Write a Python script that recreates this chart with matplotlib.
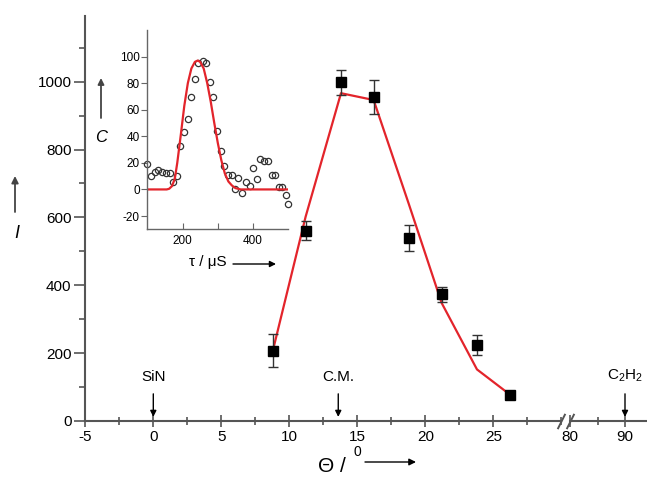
import matplotlib
matplotlib.use('Agg')
import matplotlib.pyplot as plt
from matplotlib.patches import FancyArrowPatch
from matplotlib.ticker import MultipleLocator, FixedLocator

plt.rcParams['font.family'] = ['Liberation Sans', 'DejaVu Sans']
plt.rcParams['mathtext.fontset'] = 'custom'
plt.rcParams['mathtext.rm'] = 'Liberation Sans'
plt.rcParams['mathtext.it'] = 'Liberation Sans:italic'
plt.rcParams['axes.unicode_minus'] = False

# main panel: intensity vs laboratory angle
theta = [8.8, 11.2, 13.8, 16.2, 18.8, 21.2, 23.8, 26.25]
intensity = [207, 560, 998, 954, 540, 373, 224, 77]
intensity_err = [49, 28, 37, 50, 39, 21, 30, 8]
model = [209, 602, 966, 946, 638, 348, 152, 77]

# arrows marking special angles
mark_names = ['SiN', 'C.M.', 'C$_2$H$_2$']
mark_theta = [0, 13.6, 90]

# inset: time-of-flight spectrum
tau = [100, 109.5, 121, 131.4, 142.9, 154.3, 164.8, 173.3, 182.9, 192.4,
       203.8, 214.3, 224.8, 235.2, 243.8, 257.1, 266.7, 278.1, 287.6, 297.1,
       308.6, 318.1, 327.6, 339, 348.6, 358.1, 369.5, 381, 390.5, 400,
       411.4, 421, 430.5, 441.9, 452.4, 462.9, 472.4, 481.9, 493.3, 499]
counts = [19.2, 10, 13, 15, 13, 12.2, 12.2, 5.8, 9.8, 32.5,
          43.5, 53, 69.8, 83, 95.5, 96.8, 95.5, 81, 69.8, 44.2,
          28.8, 18, 11, 10.5, 0.5, 8.8, -2.5, 5.8, 2.5, 16.5,
          7.5, 22.8, 21.2, 21.2, 10.5, 11.2, 1.8, 1.8, -4, -10.8]
tau_fit = [100, 155, 162, 170, 178, 185, 195, 205, 215, 225, 235, 243, 250,
           260, 270, 280, 290, 300, 310, 320, 330, 340, 350, 365, 500]
counts_fit = [0, 0, 0.5, 2.5, 8, 20, 41, 63, 80, 91, 96, 97, 96,
              91, 80, 66, 50, 35, 22, 12, 6, 3, 1, 0, 0]

W, H = 647, 483
fig = plt.figure(figsize=(W / 100, H / 100), dpi=100)


def px_axes(left, right, top, bottom):
    return fig.add_axes([left / W, 1 - bottom / H, (right - left) / W, (bottom - top) / H])


def fx(x, y):
    return (x / W, 1 - y / H)


def fig_arrow(start, end, col='black', lw=1, scale=10):
    fig.add_artist(FancyArrowPatch(fx(*start), fx(*end), transform=fig.transFigure,
                                   arrowstyle='-|>', mutation_scale=scale,
                                   color=col, lw=lw, shrinkA=0, shrinkB=0))


axis_col = '#555555'
red = '#e3242b'

ax1 = px_axes(85.3, 561.3, 15.5, 421)
ax2 = px_axes(570, 647, 15.5, 421)

for ax in (ax1, ax2):
    ax.set_ylim(0, 1195)
    ax.patch.set_alpha(0)
    for s in ('top', 'right'):
        ax.spines[s].set_visible(False)
    ax.spines['bottom'].set_color(axis_col)
    ax.spines['bottom'].set_linewidth(1.5)
    ax.tick_params(axis='x', which='major', direction='inout', length=9, width=1.2,
                   color=axis_col, labelsize=11, pad=2)
    ax.tick_params(axis='x', which='minor', direction='inout', length=6, width=1.2,
                   color=axis_col)

ax1.set_xlim(-5, 30)
ax1.xaxis.set_major_locator(FixedLocator([-5, 0, 5, 10, 15, 20, 25]))
ax1.xaxis.set_minor_locator(MultipleLocator(2.5))
ax1.spines['left'].set_color(axis_col)
ax1.spines['left'].set_linewidth(1.5)
ax1.yaxis.set_major_locator(MultipleLocator(200))
ax1.yaxis.set_minor_locator(MultipleLocator(100))
ax1.tick_params(axis='y', which='major', direction='out', length=8, width=1.2,
                color=axis_col, labelsize=11, pad=2)
ax1.tick_params(axis='y', which='minor', direction='out', length=4, width=1.2,
                color=axis_col)

ax2.set_xlim(80, 94)
ax2.spines['left'].set_visible(False)
ax2.set_yticks([])
ax2.xaxis.set_major_locator(FixedLocator([80, 90]))
ax2.xaxis.set_minor_locator(FixedLocator([85]))

# break marks
brk = dict(marker=[(-1, -2), (1, 2)], markersize=11, linestyle='none',
           color=axis_col, mec=axis_col, mew=1.4, clip_on=False)
ax1.plot([1], [0], transform=ax1.transAxes, **brk)
ax2.plot([0], [0], transform=ax2.transAxes, **brk)

# data and model
ax1.plot(theta, model, color=red, lw=1.6, zorder=2)
ax1.errorbar(theta, intensity, yerr=intensity_err, fmt='s', color='black',
             ms=7.5, ecolor='#333333', elinewidth=1, capsize=3.5, capthick=1, zorder=3)

# arrows marking special angles
for name, th in zip(mark_names, mark_theta):
    ax = ax1 if th < 50 else ax2
    ax.annotate('', xy=(th, 12), xytext=(th, 80),
                arrowprops=dict(arrowstyle='-|>', color='black', lw=1,
                                mutation_scale=9, shrinkA=0, shrinkB=0))
    ax.text(th, 108, name, ha='center', va='bottom', fontsize=11, clip_on=False)

# axis labels with arrows
fig.text(*fx(318, 466), '\u0398 /', fontsize=15, ha='left', va='center')
fig.text(*fx(353, 452), '0', fontsize=10, ha='left', va='center')
fig_arrow((365, 462), (416, 462))
fig.text(*fx(17, 234), 'I', fontsize=13, style='italic', ha='center', va='center')
fig_arrow((15, 212), (15, 176), col='#444444', lw=1.3)

# inset
ins = px_axes(147.3, 288.3, 30, 229.3)
ins.patch.set_alpha(0)
ins.set_xlim(100, 500)
ins.set_ylim(-30, 120)
for s in ('top', 'right'):
    ins.spines[s].set_visible(False)
for s in ('left', 'bottom'):
    ins.spines[s].set_color('#666666')
    ins.spines[s].set_linewidth(1)
ins.plot(tau, counts, 'o', mfc='none', mec='#333333', ms=4.5, mew=0.9, clip_on=False)
ins.plot(tau_fit, counts_fit, color=red, lw=1.6)
ins.xaxis.set_major_locator(FixedLocator([200, 400]))
ins.xaxis.set_minor_locator(FixedLocator([300]))
ins.set_yticks([-20, 0, 20, 40, 60, 80, 100])
ins.tick_params(axis='x', which='both', direction='in', length=4, width=0.8,
                color='#666666', labelsize=8.5, pad=4)
ins.tick_params(axis='y', direction='out', length=4, width=0.8,
                color='#666666', labelsize=8.5, pad=1.5)
fig.text(*fx(101, 137), 'C', fontsize=12, style='italic', ha='center', va='center')
fig_arrow((101, 118), (101, 78), col='#444444', lw=1.3, scale=9)
fig.text(*fx(208, 262), '\u03c4 / \u03bcS', fontsize=11, ha='center', va='center')
fig_arrow((233, 264), (276, 264), scale=9)

fig.savefig('out.png', dpi=100)
